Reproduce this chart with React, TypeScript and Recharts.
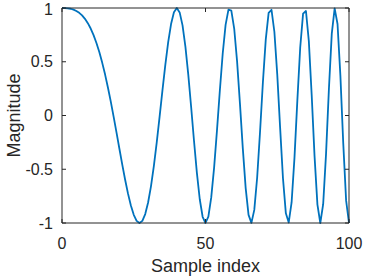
import React from 'react';
import { LineChart, XAxis, YAxis, Line } from 'recharts';

const sampleIndex = [
	0, 1, 2, 3, 4, 5, 6, 7, 8, 9, 10, 11, 12, 13, 14, 15, 16, 17, 18, 19, 20,
	21, 22, 23, 24, 25, 26, 27, 28, 29, 30, 31, 32, 33, 34, 35, 36, 37, 38, 39, 40,
	41, 42, 43, 44, 45, 46, 47, 48, 49, 50, 51, 52, 53, 54, 55, 56, 57, 58, 59, 60,
	61, 62, 63, 64, 65, 66, 67, 68, 69, 70, 71, 72, 73, 74, 75, 76, 77, 78, 79, 80,
	81, 82, 83, 84, 85, 86, 87, 88, 89, 90, 91, 92, 93, 94, 95, 96, 97, 98, 99, 100,
];

const magnitude = [
	1, 0.999, 0.997, 0.993, 0.985, 0.972, 0.955, 0.931, 0.899, 0.859, 0.809,
	0.748, 0.675, 0.59, 0.492, 0.383, 0.261, 0.129, -0.013, -0.159, -0.309,
	-0.457, -0.598, -0.727, -0.838, -0.924, -0.98, -1, -0.98, -0.917, -0.809,
	-0.659, -0.471, -0.252, -0.013, 0.233, 0.471, 0.682, 0.851, 0.961, 1,
	0.959, 0.838, 0.64, 0.38, 0.079, -0.237, -0.533, -0.779, -0.942, -1,
	-0.94, -0.762, -0.485, -0.138, 0.233, 0.577, 0.843, 0.985, 0.975, 0.809,
	0.506, 0.113, -0.306, -0.675, -0.924, -0.999, -0.878, -0.577, -0.154, 0.309,
	0.708, 0.955, 0.983, 0.779, 0.383, -0.113, -0.586, -0.91, -0.995, -0.809,
	-0.394, 0.138, 0.633, 0.947, 0.972, 0.694, 0.19, -0.38, -0.829, -1,
	-0.825, -0.357, 0.246, 0.762, 0.997, 0.851, 0.371, -0.261, -0.792, -1,
];

const xTicks = [0, 50, 100];
const yTicks = [-1, -0.5, 0, 0.5, 1];

const data = sampleIndex.map((n, i) => ({ n, magnitude: magnitude[i] }));

const axisColor = '#262626';
const font = "'Liberation Sans', Arial, Helvetica, sans-serif";
const tickStyle = { fill: axisColor, fontSize: 16, fontFamily: font };
const lineStyle = { stroke: axisColor, strokeWidth: 1 };

const NoLabel = () => <g />;

export default function App() {
	return (
		<div style={{ position: 'absolute', left: 0, top: 0 }}>
			<LineChart
				width={365}
				height={278}
				data={data}
				margin={{ top: 7, right: 15, bottom: 0, left: 0 }}
			>
				<XAxis
					xAxisId='bottom'
					dataKey='n'
					type='number'
					domain={[0, 100]}
					ticks={xTicks}
					height={55}
					tickSize={-4}
					tickMargin={19}
					axisLine={lineStyle}
					tickLine={lineStyle}
					tick={tickStyle}
					label={{
						value: 'Sample index',
						position: 'insideBottom',
						offset: 6,
						style: { fill: axisColor, fontSize: 18, fontFamily: font },
					}}
				/>
				{/* top and right axes close the box, MATLAB style */}
				<XAxis
					xAxisId='top'
					orientation='top'
					dataKey='n'
					type='number'
					domain={[0, 100]}
					ticks={xTicks}
					height={1}
					tickSize={-4}
					axisLine={lineStyle}
					tickLine={lineStyle}
					tick={NoLabel}
				/>
				<YAxis
					yAxisId='left'
					type='number'
					domain={[-1, 1]}
					ticks={yTicks}
					width={62}
					tickSize={-4}
					tickMargin={13}
					axisLine={lineStyle}
					tickLine={lineStyle}
					tick={tickStyle}
					label={{
						value: 'Magnitude',
						angle: -90,
						position: 'insideLeft',
						offset: 14,
						style: { fill: axisColor, fontSize: 18, fontFamily: font, textAnchor: 'middle' },
					}}
				/>
				<YAxis
					yAxisId='right'
					orientation='right'
					type='number'
					domain={[-1, 1]}
					ticks={yTicks}
					width={1}
					tickSize={-4}
					axisLine={lineStyle}
					tickLine={lineStyle}
					tick={NoLabel}
				/>
				<Line
					xAxisId='top'
					yAxisId='right'
					type='linear'
					dataKey='magnitude'
					stroke='none'
					dot={false}
					activeDot={false}
					isAnimationActive={false}
				/>
				<Line
					xAxisId='bottom'
					yAxisId='left'
					type='linear'
					dataKey='magnitude'
					stroke='#0072BD'
					strokeWidth={1.8}
					strokeLinejoin='round'
					dot={false}
					isAnimationActive={false}
				/>
			</LineChart>
		</div>
	);
}
